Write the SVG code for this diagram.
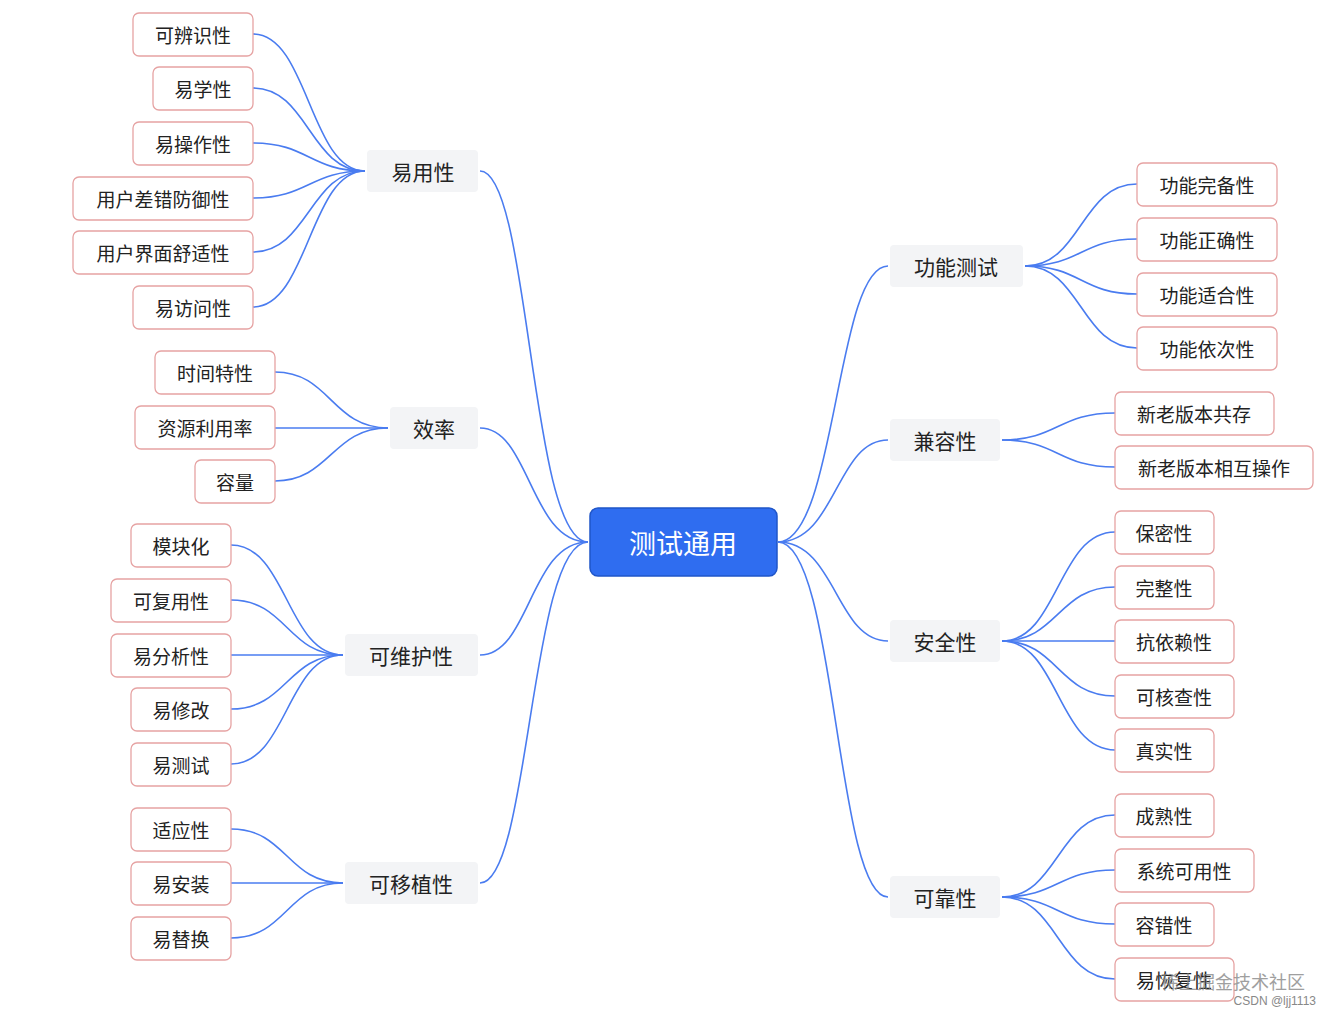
<svg xmlns="http://www.w3.org/2000/svg" width="1332" height="1018" viewBox="0 0 1332 1018">
<style>
text{font-family:"Noto Sans CJK SC","Noto Sans",sans-serif;fill:#222;dominant-baseline:central;text-anchor:middle}
.lf rect{fill:#fff;stroke:#e6a3a3;stroke-width:1.3}
.lf text{font-size:19px}
.br rect{fill:#f3f4f6}
.br text{font-size:21px}
#conn path{fill:none;stroke:#4a7cf0;stroke-width:1.6}
</style>
<rect width="1332" height="1018" fill="#fff"/>
<g id="conn">
<path d="M588,542 C530,542 530,171 480,171"/>
<path d="M588,542 C530,542 530,428 480,428"/>
<path d="M588,542 C530,542 530,655 480,655"/>
<path d="M588,542 C530,542 530,883 480,883"/>
<path d="M778,542 C836,542 836,266 888,266"/>
<path d="M778,542 C836,542 836,440 888,440"/>
<path d="M778,542 C836,542 836,641 888,641"/>
<path d="M778,542 C836,542 836,897 888,897"/>
<path d="M365,171 C310,171 308,34 253,34"/>
<path d="M365,171 C310,171 308,88 253,88"/>
<path d="M365,171 C310,171 308,143 253,143"/>
<path d="M365,171 C310,171 308,198 253,198"/>
<path d="M365,171 C310,171 308,252 253,252"/>
<path d="M365,171 C310,171 308,307 253,307"/>
<path d="M388,428 C332,428 330,372 275,372"/>
<path d="M388,428 L275,428"/>
<path d="M388,428 C332,428 330,481 275,481"/>
<path d="M343,655 C287,655 287,545 231,545"/>
<path d="M343,655 C287,655 287,600 231,600"/>
<path d="M343,655 L231,655"/>
<path d="M343,655 C287,655 287,709 231,709"/>
<path d="M343,655 C287,655 287,764 231,764"/>
<path d="M343,883 C287,883 287,829 231,829"/>
<path d="M343,883 L231,883"/>
<path d="M343,883 C287,883 287,938 231,938"/>
<path d="M1025,266 C1081,266 1081,184 1137,184"/>
<path d="M1025,266 C1081,266 1081,239 1137,239"/>
<path d="M1025,266 C1081,266 1081,294 1137,294"/>
<path d="M1025,266 C1081,266 1081,348 1137,348"/>
<path d="M1002,440 C1058,440 1058,413 1115,413"/>
<path d="M1002,440 C1058,440 1058,467 1115,467"/>
<path d="M1002,641 C1058,641 1058,532 1115,532"/>
<path d="M1002,641 C1058,641 1058,587 1115,587"/>
<path d="M1002,641 L1115,641"/>
<path d="M1002,641 C1058,641 1058,696 1115,696"/>
<path d="M1002,641 C1058,641 1058,750 1115,750"/>
<path d="M1002,897 C1058,897 1058,815 1115,815"/>
<path d="M1002,897 C1058,897 1058,870 1115,870"/>
<path d="M1002,897 C1058,897 1058,924 1115,924"/>
<path d="M1002,897 C1058,897 1058,979 1115,979"/>
</g>
<g id="center"><rect x="590" y="508" width="187" height="68" rx="8" fill="#2f6df0" stroke="#1f55c8" stroke-width="1.5"/><text x="683" y="542" style="font-size:27px;fill:#fff">测试通用</text></g>
<g id="b1" class="br"><rect x="367" y="150" width="111" height="42" rx="4"/><text x="423" y="171">易用性</text></g>
<g id="b2" class="br"><rect x="390" y="407" width="88" height="42" rx="4"/><text x="434" y="428">效率</text></g>
<g id="b3" class="br"><rect x="345" y="634" width="133" height="42" rx="4"/><text x="411" y="655">可维护性</text></g>
<g id="b4" class="br"><rect x="345" y="862" width="133" height="42" rx="4"/><text x="411" y="883">可移植性</text></g>
<g id="b5" class="br"><rect x="890" y="245" width="133" height="42" rx="4"/><text x="956" y="266">功能测试</text></g>
<g id="b6" class="br"><rect x="890" y="419" width="110" height="42" rx="4"/><text x="945" y="440">兼容性</text></g>
<g id="b7" class="br"><rect x="890" y="620" width="110" height="42" rx="4"/><text x="945" y="641">安全性</text></g>
<g id="b8" class="br"><rect x="890" y="876" width="110" height="42" rx="4"/><text x="945" y="897">可靠性</text></g>
<g id="l1" class="lf"><rect x="133" y="13" width="120" height="43" rx="6"/><text x="193" y="34">可辨识性</text></g>
<g id="l2" class="lf"><rect x="153" y="67" width="100" height="43" rx="6"/><text x="203" y="88">易学性</text></g>
<g id="l3" class="lf"><rect x="133" y="122" width="120" height="43" rx="6"/><text x="193" y="143">易操作性</text></g>
<g id="l4" class="lf"><rect x="73" y="177" width="180" height="43" rx="6"/><text x="163" y="198">用户差错防御性</text></g>
<g id="l5" class="lf"><rect x="73" y="231" width="180" height="43" rx="6"/><text x="163" y="252">用户界面舒适性</text></g>
<g id="l6" class="lf"><rect x="133" y="286" width="120" height="43" rx="6"/><text x="193" y="307">易访问性</text></g>
<g id="l7" class="lf"><rect x="155" y="351" width="120" height="43" rx="6"/><text x="215" y="372">时间特性</text></g>
<g id="l8" class="lf"><rect x="135" y="406" width="140" height="43" rx="6"/><text x="205" y="427">资源利用率</text></g>
<g id="l9" class="lf"><rect x="195" y="460" width="80" height="43" rx="6"/><text x="235" y="481">容量</text></g>
<g id="l10" class="lf"><rect x="131" y="524" width="100" height="43" rx="6"/><text x="181" y="545">模块化</text></g>
<g id="l11" class="lf"><rect x="111" y="579" width="120" height="43" rx="6"/><text x="171" y="600">可复用性</text></g>
<g id="l12" class="lf"><rect x="111" y="634" width="120" height="43" rx="6"/><text x="171" y="655">易分析性</text></g>
<g id="l13" class="lf"><rect x="131" y="688" width="100" height="43" rx="6"/><text x="181" y="709">易修改</text></g>
<g id="l14" class="lf"><rect x="131" y="743" width="100" height="43" rx="6"/><text x="181" y="764">易测试</text></g>
<g id="l15" class="lf"><rect x="131" y="808" width="100" height="43" rx="6"/><text x="181" y="829">适应性</text></g>
<g id="l16" class="lf"><rect x="131" y="862" width="100" height="43" rx="6"/><text x="181" y="883">易安装</text></g>
<g id="l17" class="lf"><rect x="131" y="917" width="100" height="43" rx="6"/><text x="181" y="938">易替换</text></g>
<g id="r1" class="lf"><rect x="1137" y="163" width="140" height="43" rx="6"/><text x="1207" y="184">功能完备性</text></g>
<g id="r2" class="lf"><rect x="1137" y="218" width="140" height="43" rx="6"/><text x="1207" y="239">功能正确性</text></g>
<g id="r3" class="lf"><rect x="1137" y="273" width="140" height="43" rx="6"/><text x="1207" y="294">功能适合性</text></g>
<g id="r4" class="lf"><rect x="1137" y="327" width="140" height="43" rx="6"/><text x="1207" y="348">功能依次性</text></g>
<g id="r5" class="lf"><rect x="1115" y="392" width="159" height="43" rx="6"/><text x="1194" y="413">新老版本共存</text></g>
<g id="r6" class="lf"><rect x="1115" y="446" width="198" height="43" rx="6"/><text x="1214" y="467">新老版本相互操作</text></g>
<g id="r7" class="lf"><rect x="1115" y="511" width="99" height="43" rx="6"/><text x="1164" y="532">保密性</text></g>
<g id="r8" class="lf"><rect x="1115" y="566" width="99" height="43" rx="6"/><text x="1164" y="587">完整性</text></g>
<g id="r9" class="lf"><rect x="1115" y="620" width="119" height="43" rx="6"/><text x="1174" y="641">抗依赖性</text></g>
<g id="r10" class="lf"><rect x="1115" y="675" width="119" height="43" rx="6"/><text x="1174" y="696">可核查性</text></g>
<g id="r11" class="lf"><rect x="1115" y="729" width="99" height="43" rx="6"/><text x="1164" y="750">真实性</text></g>
<g id="r12" class="lf"><rect x="1115" y="794" width="99" height="43" rx="6"/><text x="1164" y="815">成熟性</text></g>
<g id="r13" class="lf"><rect x="1115" y="849" width="139" height="43" rx="6"/><text x="1184" y="870">系统可用性</text></g>
<g id="r14" class="lf"><rect x="1115" y="903" width="99" height="43" rx="6"/><text x="1164" y="924">容错性</text></g>
<g id="r15" class="lf"><rect x="1115" y="958" width="119" height="43" rx="6"/><text x="1174" y="979">易恢复性</text></g>
<text x="1305" y="981" style="font-size:18px;fill:#888;opacity:0.8;text-anchor:end">稀土掘金技术社区</text>
<text x="1316" y="1001" style="font-size:12px;fill:#888;text-anchor:end;font-family:'Liberation Sans',sans-serif">CSDN @ljj1113</text>
</svg>
